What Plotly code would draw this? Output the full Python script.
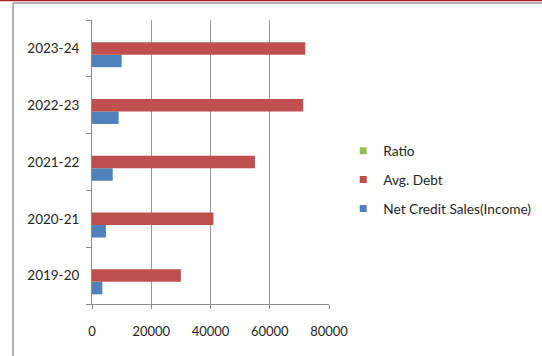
import plotly.graph_objects as go

# Financial years and the three series plotted for each
years = ["2019-20", "2020-21", "2021-22", "2022-23", "2023-24"]
net_credit_sales = [3500, 4700, 7000, 9000, 10000]
avg_debt = [30000, 41000, 55000, 71300, 72000]
ratio = [0.12, 0.11, 0.13, 0.13, 0.14]

x_ticks = [0, 20000, 40000, 60000, 80000]

BLUE = "#4F81BD"
RED = "#C0504D"
GREEN = "#9BBB59"
FONT = "Lato"
TEXT = "#262626"

series = [
    ("Net Credit Sales(Income)", net_credit_sales, BLUE),
    ("Avg. Debt", avg_debt, RED),
    ("Ratio", ratio, GREEN),
]

fig = go.Figure()
for name, vals, color in series:
    fig.add_trace(go.Bar(
        y=years, x=vals, name=name, orientation="h",
        marker=dict(color=color, line=dict(width=0)),
        showlegend=False,
    ))
# small square legend keys, listed top to bottom as Ratio, Avg. Debt, Net Credit Sales
for name, vals, color in reversed(series):
    fig.add_trace(go.Scatter(
        x=[None], y=[None], mode="markers", name=name,
        marker=dict(symbol="square", size=7, color=color),
        legendgroup=name, showlegend=True,
    ))

fig.update_layout(
    width=542, height=356,
    margin=dict(l=92, r=213, t=20, b=52, autoexpand=False),
    paper_bgcolor="white", plot_bgcolor="white",
    barmode="group", bargap=0.34, bargroupgap=0,
    font=dict(family=FONT, size=13, color=TEXT),
    legend=dict(
        x=1.06, xanchor="left", y=0.437, yanchor="middle",
        traceorder="grouped", tracegroupgap=8,
        font=dict(family=FONT, size=13.7, color=TEXT),
        bgcolor="rgba(0,0,0,0)", itemwidth=30,
    ),
    xaxis=dict(
        range=[0, 80000], tickvals=x_ticks, ticktext=[str(v) for v in x_ticks],
        showgrid=True, gridcolor="#9a9a9a", gridwidth=1,
        showline=True, linecolor="#8c8c8c", linewidth=1,
        ticks="outside", ticklen=4, tickcolor="#8c8c8c",
        ticklabelstandoff=11, zeroline=False,
    ),
    yaxis=dict(
        type="category", categoryorder="array", categoryarray=years,
        showgrid=False, showline=True, linecolor="#8c8c8c", linewidth=1,
        ticks="outside", ticklen=5, tickcolor="#8c8c8c", tickson="boundaries",
        ticklabelstandoff=9, tickfont=dict(size=13.5),
    ),
    shapes=[
        # dark red rule along the top edge
        dict(type="line", xref="paper", yref="paper",
             xsizemode="pixel", xanchor=0, x0=-92, x1=460,
             ysizemode="pixel", yanchor=1, y0=19.5, y1=19.5,
             line=dict(color="#B22222", width=1.5)),
        # grey frame: top and left edges
        dict(type="line", xref="paper", yref="paper",
             xsizemode="pixel", xanchor=0, x0=-79, x1=460,
             ysizemode="pixel", yanchor=1, y0=17, y1=17,
             line=dict(color="#9a9a9a", width=1.5)),
        dict(type="line", xref="paper", yref="paper",
             xsizemode="pixel", xanchor=0, x0=-79, x1=-79,
             ysizemode="pixel", yanchor=1, y0=17, y1=-340,
             line=dict(color="#9a9a9a", width=1.5)),
    ],
)

fig.write_html("out.html")
